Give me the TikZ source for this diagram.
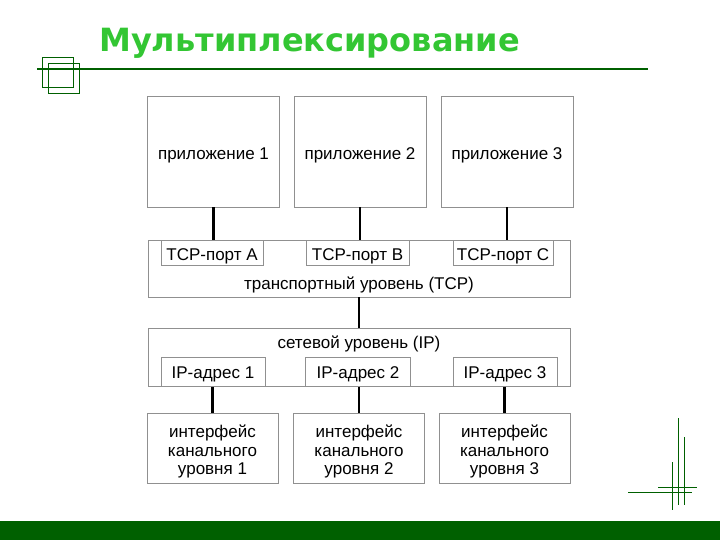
\documentclass[tikz,border=0pt]{standalone}
\usepackage{fontspec}
\setmainfont{Liberation Sans}
\newfontfamily\titlefont{DejaVu Sans}
\usetikzlibrary{positioning}

\definecolor{bargreen}{HTML}{006000}
\definecolor{titlegreen}{HTML}{33C633}
\definecolor{boxgray}{HTML}{909090}

\tikzset{
  layerbox/.style={draw=boxgray,line width=0.8pt,inner sep=0pt},
  boxtext/.style={align=center,yshift=-3.5pt,font=\fontsize{17}{18.5}\selectfont},
  link/.style={line width=2.6pt,black},
  deco/.style={bargreen,line width=0.9pt}
}

\begin{document}
\begin{tikzpicture}[x=1pt,y=-1pt]
  \useasboundingbox (0,0) rectangle (720,540);
  % title and decoration
  \node[anchor=base west,inner sep=0pt,text=titlegreen,font=\titlefont\bfseries\fontsize{32}{36}\selectfont] (title) at (99,52) {Мультиплексирование};
  \draw[bargreen,line width=2pt] (37,69) -- (648,69);
  \draw[deco] (42,57) rectangle (73,87);
  \draw[deco] (48,63) rectangle (79,93);
  \fill[bargreen] (0,521) rectangle (720,540);
  \draw[deco] (678,418) -- (678,505);
  \draw[deco] (684,437) -- (684,505);
  \draw[deco] (672,462) -- (672,510);
  \draw[deco] (658,487) -- (697,487);
  \draw[deco] (628,492) -- (692,492);

  % outer layers
  \node[layerbox,minimum width=422,minimum height=57] (transport) at (359,268.5) {};
  \node[font=\fontsize{17}{19.5}\selectfont] (tlabel) at (359,284.5) {транспортный уровень (TCP)};
  \node[layerbox,minimum width=422,minimum height=58] (network) at (359,357) {};
  \node[font=\fontsize{17}{19.5}\selectfont] (nlabel) at (359,344) {сетевой уровень (IP)};

  % applications, ports, addresses, interfaces
  \foreach \i/\x in {1/213.5,2/360,3/507} {
    \node[layerbox,minimum width=132,minimum height=111,
      label={[boxtext]center:приложение \i}] (app\i) at (\x,151.5) {};
  }
  \foreach \i/\x/\w/\p in {1/212/102/A,2/357.5/103/B,3/503/100/C} {
    \node[layerbox,minimum width=\w,minimum height=25,
      label={[boxtext]center:TCP-порт \p}] (port\i) at (\x,252.5) {};
  }
  \foreach \i/\x/\w in {1/213/104,2/358/105,3/505/104} {
    \node[layerbox,minimum width=\w,minimum height=29,
      label={[boxtext,yshift=1.5pt]center:IP-адрес \i}] (ip\i) at (\x,372) {};
  }
  \foreach \i/\x in {1/212.5,2/359,3/504.5} {
    \node[layerbox,minimum width=131,minimum height=70,
      label={[boxtext]center:интерфейс\\канального\\уровня \i}] (iface\i) at (\x,448) {};
  }

  % connectors
  \draw[link] (app1.south) -- (app1.south |- transport.north);
  \draw[link] (app2.south) -- (app2.south |- transport.north);
  \draw[link] (app3.south) -- (app3.south |- transport.north);
  \draw[link] (transport.south) -- (network.north);
  \draw[link] (ip1.south -| iface1.north) -- (iface1.north);
  \draw[link] (ip2.south -| iface2.north) -- (iface2.north);
  \draw[link] (ip3.south -| iface3.north) -- (iface3.north);
\end{tikzpicture}
\end{document}
